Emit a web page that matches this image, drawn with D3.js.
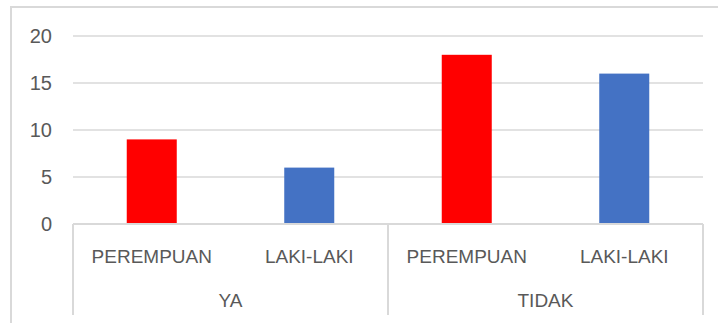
<!DOCTYPE html>
<html>
<head>
<meta charset="utf-8">
<script src="https://cdn.jsdelivr.net/npm/d3@7"></script>
<style>
  html, body { margin: 0; padding: 0; background: #fff; }
  svg { display: block; }
  text { font-family: "Liberation Sans", Arial, sans-serif; fill: #595959; }
</style>
</head>
<body>
<svg id="chart" width="718" height="323"></svg>
<script>
// Survey answers split by gender
const groups = ["YA", "TIDAK"];
const genders = ["PEREMPUAN", "LAKI-LAKI"];
const values = [
  [9, 6],   // YA
  [18, 16]  // TIDAK
];
const yTicks = [0, 5, 10, 15, 20];
const colors = ["#ff0000", "#4472c4"];

const svg = d3.select("#chart");
const W = 718, H = 323;
const plot = { left: 73, right: 703, top: 36, bottom: 224 };
const axisBottom = 315;

// Outer chart frame
svg.append("rect")
  .attr("x", 11).attr("y", 7)
  .attr("width", W + 10).attr("height", H + 10)
  .attr("fill", "none").attr("stroke", "#d9d9d9").attr("stroke-width", 2);

const y = d3.scaleLinear().domain([0, 20]).range([plot.bottom, plot.top]);

// Flattened bar list: one per group/gender pair
const bars = [];
groups.forEach((g, gi) => genders.forEach((s, si) => bars.push({ group: g, gender: s, gi, si, value: values[gi][si] })));

const xOuter = d3.scaleBand().domain(groups).range([plot.left, plot.right]);
const xInner = d3.scaleBand().domain(genders).range([0, xOuter.bandwidth()]).paddingInner(0.6825).paddingOuter(0.34125);

// Horizontal gridlines (0 is drawn by the category box)
svg.append("g")
  .selectAll("line")
  .data(yTicks.filter(t => t > 0))
  .join("line")
  .attr("x1", plot.left).attr("x2", plot.right)
  .attr("y1", d => y(d)).attr("y2", d => y(d))
  .attr("stroke", "#d9d9d9").attr("stroke-width", 1.5);

// Y-axis tick labels
const yAxis = d3.axisLeft(y).tickValues(yTicks).tickSize(0).tickPadding(0);
svg.append("g")
  .attr("transform", "translate(52,0)")
  .call(yAxis)
  .call(g => g.select(".domain").remove())
  .selectAll("text")
  .attr("font-size", 20)
  .attr("fill", "#595959")
  .attr("font-family", "Liberation Sans, Arial, sans-serif");

// Bars
svg.append("g")
  .selectAll("rect")
  .data(bars)
  .join("rect")
  .attr("x", d => xOuter(d.group) + xInner(d.gender))
  .attr("width", xInner.bandwidth())
  .attr("y", d => y(d.value))
  .attr("height", d => y(0) - y(d.value))
  .attr("fill", d => colors[d.si]);

// Category box: baseline plus group dividers
const box = svg.append("g").attr("stroke", "#d9d9d9").attr("stroke-width", 2).attr("fill", "none");
box.append("line").attr("x1", plot.left).attr("x2", plot.right).attr("y1", plot.bottom).attr("y2", plot.bottom);
const dividers = groups.map(g => xOuter(g)).concat([plot.right]);
box.selectAll("line.div")
  .data(dividers)
  .join("line")
  .attr("class", "div")
  .attr("x1", d => d).attr("x2", d => d)
  .attr("y1", plot.bottom).attr("y2", axisBottom);

// Gender labels
svg.append("g")
  .selectAll("text")
  .data(bars)
  .join("text")
  .attr("x", d => xOuter(d.group) + xInner(d.gender) + xInner.bandwidth() / 2)
  .attr("y", 263)
  .attr("text-anchor", "middle")
  .attr("font-size", 19)
  .text(d => d.gender);

// Group labels
svg.append("g")
  .selectAll("text")
  .data(groups)
  .join("text")
  .attr("x", d => xOuter(d) + xOuter.bandwidth() / 2)
  .attr("y", 307)
  .attr("text-anchor", "middle")
  .attr("font-size", 19)
  .text(d => d);
</script>
</body>
</html>
